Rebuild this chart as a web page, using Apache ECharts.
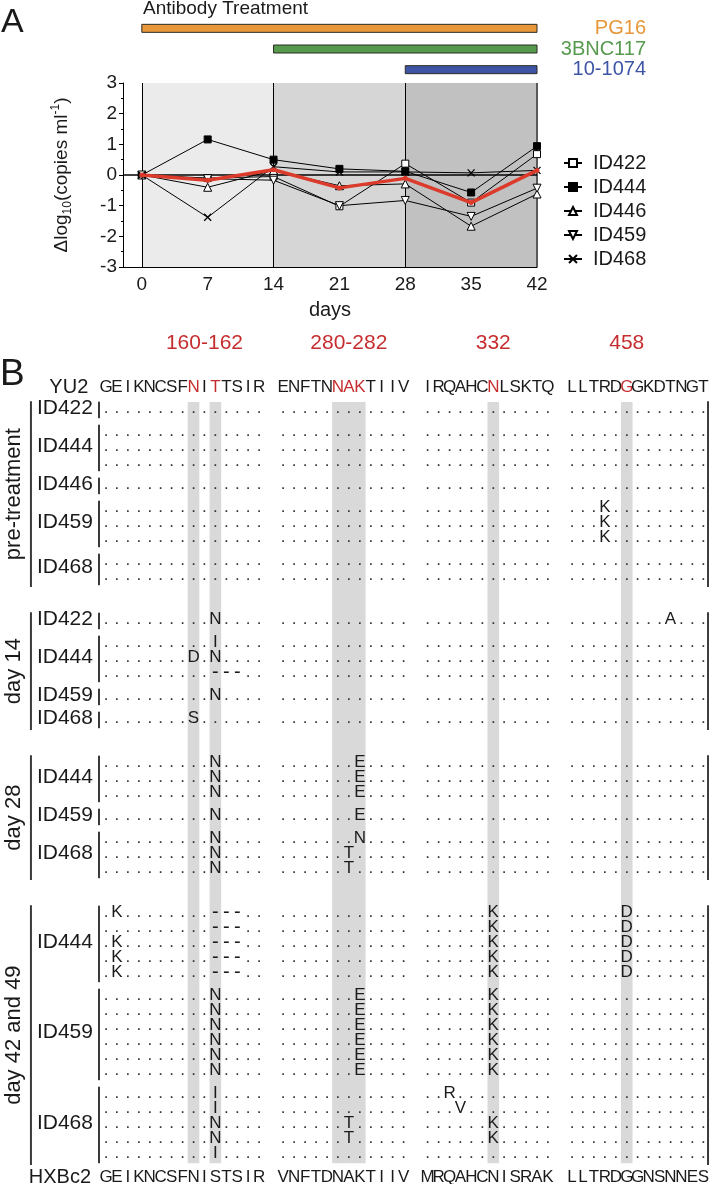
<!DOCTYPE html>
<html><head><meta charset="utf-8">
<script src="https://cdn.jsdelivr.net/npm/echarts@6/dist/echarts.min.js"></script>
<style>html,body{margin:0;padding:0;background:#fff}#c{width:710px;height:1184px}</style>
</head><body><div id="c"></div>
<script>
// ---------------- Panel A data ----------------
const days = [0, 7, 14, 21, 28, 35, 42];
const dayTicks = [0, 7, 14, 21, 28, 35, 42];
const patients = ['ID422', 'ID444', 'ID446', 'ID459', 'ID468'];
const id422 = [0, -0.1, -0.05, -1.02, 0.37, -0.9, 0.68];
const id444 = [0, 1.16, 0.5, 0.2, 0.12, -0.57, 0.94];
const id446 = [0, -0.4, 0.15, -0.35, -0.29, -1.67, -0.62];
const id459 = [0, -0.12, -0.17, -1.0, -0.83, -1.35, -0.43];
const id468 = [0, -1.38, 0.27, 0.1, 0.1, 0.07, 0.15];
const meanChange = [0, -0.17, 0.17, -0.42, -0.11, -0.9, 0.15];
const antibodies = ['PG16', '3BNC117', '10-1074'];
const abStartDay = [0, 14, 28];
const abEndDay = [42, 42, 42];
const phaseStart = [0, 14, 28];
const phaseEnd = [14, 28, 42];

// ---------------- Panel B data ----------------
const yu2Seq = ['GEIKNCSFNITTSIR', 'ENFTNNAKTIIV', 'IRQAHCNLSKTQ', 'LLTRDGGKDTNGT'];
const hxbc2Seq = ['GEIKNCSFNISTSIR', 'VNFTDNAKTIIV', 'MRQAHCNISRAK', 'LLTRDGGNSNNES'];
const siteLabels = ['160-162', '280-282', '332', '458'];
const siteLabelAt = [[1, 10], [2, 7], [3, 7], [4, 6]];          // [block, column]
const siteResidues = [[1, 9], [1, 11], [2, 6], [2, 7], [2, 8], [3, 7], [4, 6]];
const sectionNames = ['pre-treatment', 'day 14', 'day 28', 'day 42 and 49'];
// each row lists its substitutions as "block:column+residue"; empty = identical to YU2
const preTreatment = [
  ['ID422', ['']],
  ['ID444', ['', '', '']],
  ['ID446', ['']],
  ['ID459', ['4:4K', '4:4K', '4:4K']],
  ['ID468', ['', '']]
];
const day14 = [
  ['ID422', ['1:11N 4:10A']],
  ['ID444', ['1:11I', '1:9D 1:11N', '1:11- 1:12- 1:13-']],
  ['ID459', ['1:11N']],
  ['ID468', ['1:9S']]
];
const day28 = [
  ['ID444', ['1:11N 2:8E', '1:11N 2:8E', '1:11N 2:8E']],
  ['ID459', ['1:11N 2:8E']],
  ['ID468', ['1:11N 2:8N', '1:11N 2:7T', '1:11N 2:7T']]
];
const day42and49 = [
  ['ID444', ['1:2K 1:11- 1:12- 1:13- 3:7K 4:6D', '1:11- 1:12- 1:13- 3:7K 4:6D',
             '1:2K 1:11- 1:12- 1:13- 3:7K 4:6D', '1:2K 1:11- 1:12- 1:13- 3:7K 4:6D',
             '1:2K 1:11- 1:12- 1:13- 3:7K 4:6D']],
  ['ID459', ['1:11N 2:8E 3:7K', '1:11N 2:8E 3:7K', '1:11N 2:8E 3:7K',
             '1:11N 2:8E 3:7K', '1:11N 2:8E 3:7K', '1:11N 2:8E 3:7K']],
  ['ID468', ['1:11I 3:3R', '1:11I 3:4V', '1:11N 2:7T 3:7K', '1:11N 2:7T 3:7K', '1:11I']]
];
const sections = [preTreatment, day14, day28, day42and49];

// ---------------- styles / layout ----------------
const FONT = '"Liberation Sans", Arial, Helvetica, sans-serif';
const RED = '#c62d2f';
const INK = '#1a1a1a';
const abColor = ['#e8973a', '#569a4e', '#3d55a4'];
const phaseColor = ['#ebebeb', '#d6d6d6', '#c1c1c1'];
const CHAR_SIZE = 17;
const BLOCK_GAP = 1.2, ROW = 1, GROUP_GAP = 23 / 15, SECTION_GAP = 44 / 15;

const blockStart = [];
(function () { let s = 0; yu2Seq.forEach((b) => { blockStart.push(s); s += b.length + BLOCK_GAP; }); })();
const colU = (b, c) => blockStart[b - 1] + c - 1;
const isSite = (b, c) => siteResidues.some(([bb, cc]) => bb === b && cc === c);

const cells = [];
const bands = [];
const pushSeq = (seq, y, colorSites) => seq.forEach((blk, bi) => {
  for (let ci = 0; ci < blk.length; ci++) {
    cells.push({ t: 'txt', x: colU(bi + 1, ci + 1), y, text: blk[ci], size: CHAR_SIZE,
      color: colorSites && isSite(bi + 1, ci + 1) ? RED : INK });
  }
});
// header
siteLabels.forEach((s, i) => cells.push({ t: 'txt', x: colU(siteLabelAt[i][0], siteLabelAt[i][1]), y: -2.95, text: s, size: 21, color: RED }));
cells.push({ t: 'txt', x: -1.62, y: 0, text: 'YU2', size: 20, align: 'right' });
pushSeq(yu2Seq, 0, true);

let y = 1.4 - ROW;
const firstRowY = 1.4;
sections.forEach((sec, si) => {
  if (si > 0) y += SECTION_GAP - ROW;
  let secTop = null;
  sec.forEach(([id, rows], gi) => {
    if (gi > 0) y += GROUP_GAP - ROW;
    let gTop = null;
    rows.forEach((r) => {
      y += ROW;
      if (gTop === null) gTop = y;
      if (secTop === null) secTop = y;
      const subs = {};
      r.split(' ').filter(Boolean).forEach(tok => {
        const m = tok.match(/^(\d):(\d+)(.)$/);
        subs[m[1] + ':' + m[2]] = m[3];
      });
      yu2Seq.forEach((blk, bi) => {
        for (let ci = 0; ci < blk.length; ci++) {
          const k = (bi + 1) + ':' + (ci + 1);
          const ch = subs[k] || '.';
          cells.push({ t: 'txt', x: colU(bi + 1, ci + 1), y, text: ch,
            size: ch === '-' ? 20 : CHAR_SIZE, color: ch === '.' ? '#333' : INK });
        }
      });
    });
    const gBot = y;
    cells.push({ t: 'txt', x: -1.19, y: (gTop + gBot) / 2, text: id, size: 21, align: 'right' });
    cells.push({ t: 'vbar', x: -0.64, y1: gTop - 0.42, y2: gBot + 0.68 });
  });
  const secBot = y;
  cells.push({ t: 'vbar', x: -6.86, y1: secTop - 0.45, y2: secBot + 0.8 });
  cells.push({ t: 'vbar', x: 55.03, y1: secTop - 0.45, y2: secBot + 0.8 });
  cells.push({ t: 'txt', x: -8.4, y: (secTop + secBot + 0.35) / 2, text: sectionNames[si], size: 22, rot: Math.PI / 2 });
});
const lastRowY = y;
const hxY = lastRowY + 1.6;
cells.push({ t: 'txt', x: -1.37, y: hxY, text: 'HXBc2', size: 20, align: 'right' });
pushSeq(hxbc2Seq, hxY, false);
siteResidues.forEach(([b, c]) => bands.push({ t: 'band', x: colU(b, c), y1: firstRowY - 0.4, y2: lastRowY + 0.68 }));
const allCells = bands.concat(cells);

const lineSeries = (name, vals, symbol, fill, extra) => Object.assign({
  name, type: 'line', xAxisIndex: 1, yAxisIndex: 1,
  data: days.map((d, i) => [d, vals[i]]),
  symbol, symbolSize: 7, showAllSymbol: true,
  lineStyle: { color: '#000', width: 1 },
  itemStyle: { color: fill, borderColor: '#000', borderWidth: 1 },
  z: 5, animation: false
}, extra || {});

const option = {
  animation: false,
  textStyle: { fontFamily: FONT },
  grid: [
    { left: 123, top: 18, width: 414, height: 62 },
    { left: 123, top: 83, width: 414, height: 184 },
    { left: 0, top: 342, width: 710, height: 840 }
  ],
  xAxis: [
    { gridIndex: 0, type: 'value', min: -2, max: 42, show: false },
    { gridIndex: 1, type: 'value', min: -2, max: 42,
      axisLine: { onZero: false, lineStyle: { color: '#000', width: 1 } },
      axisTick: { show: false }, splitLine: { show: false },
      axisLabel: { customValues: dayTicks, fontSize: 19, color: INK, margin: 8, fontFamily: FONT },
      name: 'days', nameLocation: 'middle', nameGap: 33,
      nameTextStyle: { fontSize: 20, color: INK, fontFamily: FONT } },
    { gridIndex: 2, type: 'value', min: -106 / 10.94, max: 604 / 10.94, show: false }
  ],
  yAxis: [
    { gridIndex: 0, type: 'category', data: antibodies, inverse: true, show: false },
    { gridIndex: 1, type: 'value', min: -3, max: 3, interval: 1,
      axisLine: { show: true, onZero: false, lineStyle: { color: '#000', width: 1 } },
      axisTick: { show: true, length: 4, lineStyle: { color: '#000' } },
      minorTick: { show: true, splitNumber: 2, length: 2, lineStyle: { color: '#000' } },
      splitLine: { show: false },
      axisLabel: { fontSize: 19, color: INK, margin: 6, fontFamily: FONT },
      name: '{a|\u0394log}{s|10}{a|(copies ml}{p|-1}{a|)}',
      nameLocation: 'middle', nameGap: 49, nameRotate: 90,
      nameTextStyle: { color: INK, fontFamily: FONT, rich: {
        a: { fontSize: 19, lineHeight: 24, color: INK, fontFamily: FONT },
        s: { fontSize: 12, lineHeight: 12, verticalAlign: 'bottom', color: INK, fontFamily: FONT },
        p: { fontSize: 12, lineHeight: 12, verticalAlign: 'top', color: INK, fontFamily: FONT } } } },
    { gridIndex: 2, type: 'value', min: -3, max: 53, inverse: true, show: false }
  ],
  legend: {
    data: patients, orient: 'vertical', left: 558, top: 148, itemWidth: 18, itemHeight: 10, itemGap: 4,
    textStyle: { fontSize: 20, color: INK, fontFamily: FONT, padding: [0, 0, 0, 6] }
  },
  graphic: [
    { type: 'text', left: 1, top: 6, style: { text: 'A', fontSize: 34, fill: INK, fontFamily: FONT } },
    { type: 'text', left: 0, top: 356, style: { text: 'B', fontSize: 37, fill: INK, fontFamily: FONT } },
    { type: 'text', left: 143, top: -1, style: { text: 'Antibody Treatment', fontSize: 19, fill: INK, fontFamily: FONT } }
  ],
  series: [
    { name: 'phases', type: 'line', xAxisIndex: 1, yAxisIndex: 1, data: [], silent: true, z: 1,
      markArea: { silent: true, data: phaseStart.map((s, i) => [{ xAxis: s, itemStyle: { color: phaseColor[i] } }, { xAxis: phaseEnd[i] }]) },
      markLine: { silent: true, symbol: ['none', 'none'], label: { show: false },
        lineStyle: { color: '#000', width: 1, type: 'solid' },
        data: [
          { xAxis: phaseStart[0] }, { xAxis: phaseStart[1] }, { xAxis: phaseStart[2] },
          { xAxis: phaseEnd[2], lineStyle: { color: '#5a5a5a', width: 2, type: 'solid' } },
          { yAxis: 0, lineStyle: { color: '#000', width: 1.5, type: 'solid' } }
        ] } },
    lineSeries('ID422', id422, 'rect', '#fff'),
    lineSeries('ID444', id444, 'rect', '#000'),
    lineSeries('ID446', id446, 'triangle', '#fff', { symbolSize: 8 }),
    lineSeries('ID459', id459, 'triangle', '#fff', { symbolSize: 8, symbolRotate: 180 }),
    lineSeries('ID468', id468, 'path://M0,0L10,10M0,10L10,0', 'rgba(0,0,0,0)', { symbolSize: 7, itemStyle: { color: 'rgba(0,0,0,0)', borderColor: '#000', borderWidth: 1.3 } }),
    { name: 'mean', type: 'line', xAxisIndex: 1, yAxisIndex: 1, data: days.map((d, i) => [d, meanChange[i]]),
      symbol: 'circle', symbolSize: 5, lineStyle: { color: '#dc3b2c', width: 3.5 }, itemStyle: { color: '#dc3b2c' }, z: 8 },
    { name: 'treatment', type: 'custom', xAxisIndex: 0, yAxisIndex: 0, silent: true,
      data: antibodies.map((a, i) => [abStartDay[i], abEndDay[i], i]),
      encode: { x: [0, 1], y: 2 },
      renderItem: (params, api) => {
        const i = params.dataIndex;
        const s = api.coord([api.value(0), i]);
        const e = api.coord([api.value(1), i]);
        return { type: 'group', children: [
          { type: 'rect', shape: { x: s[0], y: s[1] - 4, width: e[0] - s[0], height: 8 },
            style: { fill: abColor[i], stroke: '#2e2a22', lineWidth: 1 } },
          { type: 'text', x: e[0] + 109, y: s[1], style: { text: antibodies[i], fill: abColor[i], fontSize: 20, fontFamily: FONT, align: 'right', verticalAlign: 'middle' } }
        ] };
      } },
    { name: 'alignment', type: 'custom', xAxisIndex: 2, yAxisIndex: 2, silent: true, clip: false,
      data: allCells.map(c => [c.x, c.y !== undefined ? c.y : c.y1]),
      encode: { x: 0, y: 1 },
      renderItem: (params, api) => {
        const c = allCells[params.dataIndex];
        if (c.t === 'band') {
          const p1 = api.coord([c.x - 0.53, c.y1]), p2 = api.coord([c.x + 0.53, c.y2]);
          return { type: 'rect', shape: { x: p1[0], y: p1[1], width: p2[0] - p1[0], height: p2[1] - p1[1] }, style: { fill: '#d9d9d9' } };
        }
        if (c.t === 'vbar') {
          const p1 = api.coord([c.x, c.y1]), p2 = api.coord([c.x, c.y2]);
          return { type: 'line', shape: { x1: p1[0], y1: p1[1], x2: p2[0], y2: p2[1] }, style: { stroke: '#3a3a3a', lineWidth: 2 } };
        }
        const p = api.coord([c.x, c.y]);
        return { type: 'text', x: p[0], y: p[1], rotation: c.rot || 0,
          style: { text: c.text, fill: c.color || INK, fontSize: c.size, fontFamily: FONT, align: c.align || 'center', verticalAlign: 'middle' } };
      } }
  ]
};
const chart = echarts.init(document.getElementById('c'), null, { renderer: 'canvas' });
chart.setOption(option);
</script>
</body></html>
